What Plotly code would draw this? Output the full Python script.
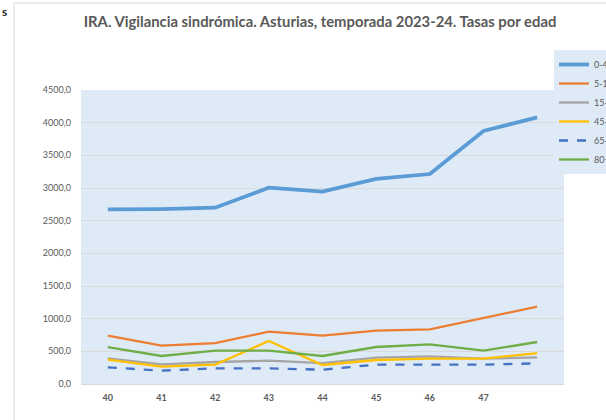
import plotly.graph_objects as go

weeks = [40, 41, 42, 43, 44, 45, 46, 47, 48]
week_ticks = [40, 41, 42, 43, 44, 45, 46, 47]
week_ticktext = ["40", "41", "42", "43", "44", "45", "46", "47"]

tasa_0_4 = [2674, 2678, 2699, 3005, 2944, 3138, 3214, 3873, 4082]
tasa_5_14 = [739, 586, 627, 801, 739, 816, 837, 1015, 1184]
tasa_15_44 = [393, 301, 337, 357, 321, 403, 424, 387, 408]
tasa_45_64 = [372, 265, 296, 658, 291, 367, 387, 387, 474]
tasa_65_79 = [255, 204, 240, 240, 219, 296, 296, 296, 316]
tasa_80 = [566, 429, 510, 510, 429, 566, 607, 510, 643]

y_ticks = [0, 500, 1000, 1500, 2000, 2500, 3000, 3500, 4000, 4500]
y_ticktext = ["0,0", "500,0", "1000,0", "1500,0", "2000,0", "2500,0",
              "3000,0", "3500,0", "4000,0", "4500,0"]

series = [
    ("0-4 años", tasa_0_4, "#5B9BD5", 3.8, "solid"),
    ("5-14 años", tasa_5_14, "#ED7D31", 2.3, "solid"),
    ("15-44 años", tasa_15_44, "#A5A5A5", 2.3, "solid"),
    ("45-64 años", tasa_45_64, "#FFC000", 2.3, "solid"),
    ("65-79 años", tasa_65_79, "#4472C4", 2.3, "dash"),
    ("80+ años", tasa_80, "#70AD47", 2.3, "solid"),
]

fig = go.Figure()
for name, vals, color, w, dash in series:
    fig.add_trace(go.Scatter(
        x=weeks, y=vals, name=name, mode="lines",
        line=dict(color=color, width=w, dash=dash),
    ))

W, H = 606, 420
L, R, T, B = 81, 42, 90, 36
pw, ph = W - L - R, H - T - B

def px(x):
    return (x - L) / pw

def py(y):
    return (H - B - y) / ph

fig.update_layout(
    width=W, height=H,
    margin=dict(l=L, r=R, t=T, b=B, autoexpand=False),
    paper_bgcolor="white",
    plot_bgcolor="#DEEBF7",
    font=dict(family="Lato", color="#595959"),
    title=dict(
        text="<b>IRA. Vigilancia sindrómica. Asturias, temporada 2023-24. Tasas por edad</b>",
        x=px(320), xanchor="center", y=1 - 22 / H, yanchor="middle",
        xref="paper",
        font=dict(size=14.8, color="#595959", family="Lato"),
    ),
    xaxis=dict(
        range=[39.5, 48.5], tickvals=week_ticks,
        ticktext=["<b>%s</b>" % t for t in week_ticktext],
        showgrid=False, zeroline=False, showline=True, linecolor="#D9D9D9",
        linewidth=1, ticks="", tickfont=dict(size=9, color="#595959", family="Lato"),
        ticklabelstandoff=5, fixedrange=True,
    ),
    yaxis=dict(
        range=[0, 4500], tickvals=y_ticks, ticktext=y_ticktext,
        showgrid=True, gridcolor="#D9D9D9", gridwidth=1, zeroline=False,
        showline=False, ticks="", tickfont=dict(size=9, color="#595959", family="Lato"),
        ticklabelstandoff=9, fixedrange=True,
    ),
    legend=dict(
        x=px(554), y=py(50), xanchor="left", yanchor="top",
        bgcolor="#DEEBF7", borderwidth=0,
        font=dict(size=9, color="#595959", family="Lato"),
        tracegroupgap=0, itemwidth=30,
    ),
    showlegend=True,
    shapes=[
        dict(type="line", xref="paper", yref="paper",
             x0=px(14), x1=px(14), y0=py(3), y1=py(430),
             line=dict(color="#D9D9D9", width=1)),
        dict(type="line", xref="paper", yref="paper",
             x0=px(14), x1=px(620), y0=py(3), y1=py(3),
             line=dict(color="#D9D9D9", width=1)),
    ],
    annotations=[
        dict(text="<b>s</b>", xref="paper", yref="paper", x=px(0), y=py(12),
             xanchor="left", yanchor="middle", showarrow=False,
             font=dict(size=12, color="#262626", family="Lato")),
    ],
)

fig.write_html(
    "out.html",
    config={"displayModeBar": False},
    post_script="document.body.style.margin='0px';document.body.style.overflow='hidden';",
)
